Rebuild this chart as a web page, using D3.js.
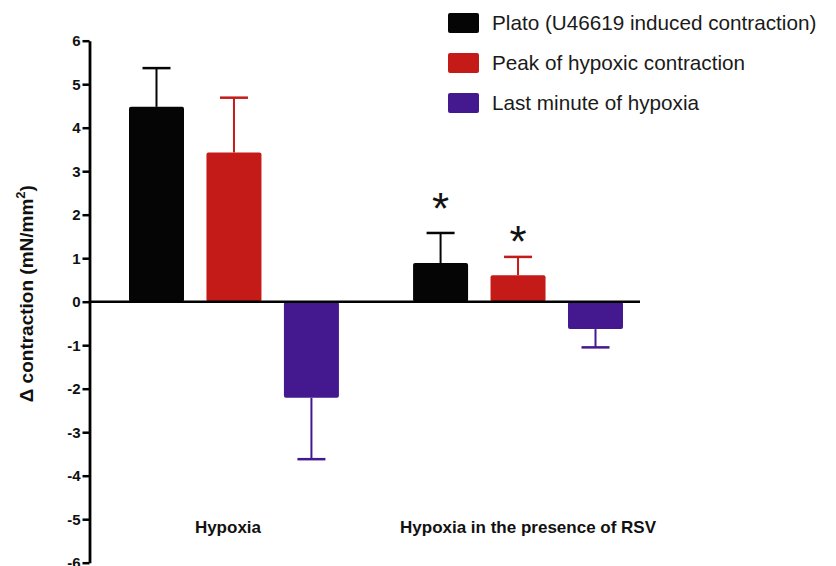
<!DOCTYPE html>
<html lang="en">
<head>
<meta charset="UTF-8">
<title>Hypoxic contraction</title>
<script src="https://d3js.org/d3.v7.min.js"></script>
<style>
    body { margin: 0; background: #fff; }
    svg { display: block; font-family: "Liberation Sans", Arial, sans-serif; }
</style>
</head>
<body>
<div class="container"></div>
<script>
    // data
    const groups = ["Hypoxia", "Hypoxia in the presence of RSV"];
    const series = ["Plato (U46619 induced contraction)", "Peak of hypoxic contraction", "Last minute of hypoxia"];
    const colours = ["#050505", "#c41b18", "#44198f"];
    const means = [[4.48, 3.43, -2.21], [0.89, 0.61, -0.63]];
    const errors = [[0.89, 1.26, 1.41], [0.69, 0.42, 0.42]];
    // asterisks (significance) in data units, null = none
    const stars = [[null, null, null], [2.36, 1.6, null]];
    const yTicks = [-6, -5, -4, -3, -2, -1, 0, 1, 2, 3, 4, 5, 6];

    const W = 836, H = 566;
    const svg = d3.select(".container").append("svg")
        .attr("width", W).attr("height", H);

    const y = d3.scaleLinear().domain([-6, 6]).range([562.7, 40.7]);
    const x0 = d3.scaleBand().domain(groups).range([129, 623]).paddingInner(0.261);
    const x1 = d3.scaleBand().domain(d3.range(series.length)).range([0, x0.bandwidth()]).paddingInner(0.29);

    // y axis
    const yAxis = svg.append("g")
        .attr("transform", "translate(89.5,0)")
        .call(d3.axisLeft(y).tickValues(yTicks).tickFormat(d => String(d))
            .tickSize(7).tickSizeOuter(0).tickPadding(2));
    yAxis.select(".domain").attr("stroke-width", 2.8);
    yAxis.selectAll(".tick line").attr("stroke-width", 2.5);
    yAxis.selectAll(".tick text")
        .attr("font-size", 15).attr("font-weight", "bold").attr("fill", "#111")
        .attr("font-family", "Liberation Sans, Arial, sans-serif");

    svg.append("text")
        .attr("transform", `translate(33,${y(0) - 8}) rotate(-90)`)
        .attr("text-anchor", "middle")
        .attr("font-size", 19).attr("font-weight", "bold").attr("fill", "#111")
        .html('\u0394 contraction (mN/mm<tspan dy="-8" font-size="13">2</tspan><tspan dy="8">)</tspan>');

    // bars, error bars, stars
    const cells = [];
    groups.forEach((g, gi) => series.forEach((s, si) => cells.push({
        g, gi, si, v: means[gi][si], e: errors[gi][si], star: stars[gi][si]
    })));

    const bx = d => x0(d.g) + x1(d.si);
    const cx = d => bx(d) + x1.bandwidth() / 2;
    const tip = d => d.v >= 0 ? d.v + d.e : d.v - d.e;

    svg.append("g").selectAll("line.err")
        .data(cells).join("line")
        .attr("x1", cx).attr("x2", cx)
        .attr("y1", d => y(d.v)).attr("y2", d => y(tip(d)))
        .attr("stroke", d => colours[d.si]).attr("stroke-width", 2);

    svg.append("g").selectAll("line.cap")
        .data(cells).join("line")
        .attr("x1", d => cx(d) - 14).attr("x2", d => cx(d) + 14)
        .attr("y1", d => y(tip(d))).attr("y2", d => y(tip(d)))
        .attr("stroke", d => colours[d.si]).attr("stroke-width", 2.5);

    svg.append("g").selectAll("rect")
        .data(cells).join("rect")
        .attr("x", bx)
        .attr("width", x1.bandwidth())
        .attr("y", d => y(Math.max(0, d.v)))
        .attr("height", d => Math.abs(y(d.v) - y(0)))
        .attr("rx", 2)
        .attr("fill", d => colours[d.si]);

    svg.append("g").selectAll("text")
        .data(cells.filter(d => d.star !== null)).join("text")
        .attr("x", cx)
        .attr("y", d => y(d.star) + 25)
        .attr("text-anchor", "middle")
        .attr("font-size", 44)
        .attr("fill", "#111")
        .text("*");

    // zero line
    svg.append("line")
        .attr("x1", 89).attr("x2", 640)
        .attr("y1", y(0)).attr("y2", y(0))
        .attr("stroke", "#000").attr("stroke-width", 2.5);

    // group labels
    const labelShift = [-6, 10];
    svg.append("g").selectAll("text")
        .data(groups).join("text")
        .attr("x", (d, i) => x0(d) + x0.bandwidth() / 2 + labelShift[i])
        .attr("y", 533)
        .attr("text-anchor", "middle")
        .attr("font-size", 17).attr("font-weight", "bold").attr("fill", "#111")
        .text(d => d);

    // legend
    const legend = svg.append("g").selectAll("g")
        .data(series).join("g")
        .attr("transform", (d, i) => `translate(448,${23 + i * 40})`);
    legend.append("rect")
        .attr("x", 0).attr("y", -10)
        .attr("width", 31).attr("height", 20).attr("rx", 2)
        .attr("fill", (d, i) => colours[i]);
    legend.append("text")
        .attr("x", 44).attr("y", 7)
        .attr("font-size", 20.7).attr("fill", "#1a1a1a")
        .text(d => d);
</script>
</body>
</html>
